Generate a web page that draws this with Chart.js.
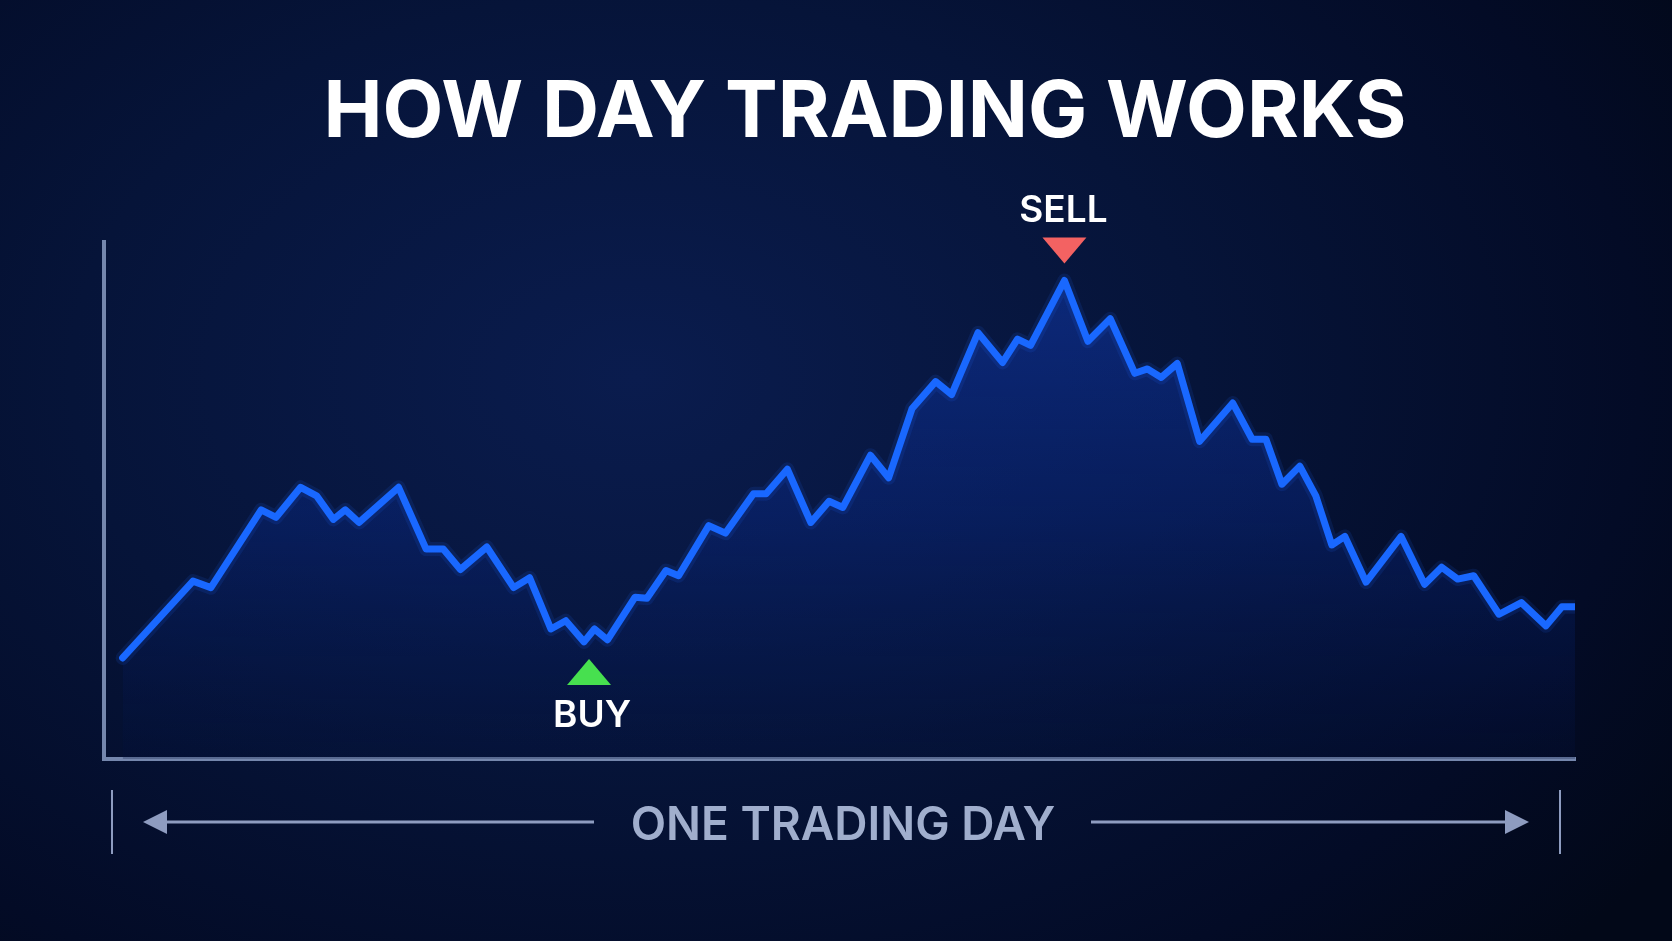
<!DOCTYPE html>
<html>
<head>
<meta charset="utf-8">
<script src="https://cdn.jsdelivr.net/npm/chart.js@4"></script>
<style>
  html, body { margin: 0; padding: 0; }
  body {
    width: 1672px;
    height: 941px;
    overflow: hidden;
    background: radial-gradient(ellipse 75% 90% at 38% 40%, #0a1c4e 0%, #061439 45%, #030b26 80%, #020818 100%);
  }
  canvas { display: block; }
</style>
</head>
<body>
<canvas id="js-day-chart" width="1672" height="941"></canvas>
<script>
"use strict";

// minutes after the open
const TIMES = [
  0, 18.9, 23.7, 37.2, 41.2, 47.8, 52.1, 56.6, 59.8, 63.5,
  74.1, 81.5, 86.1, 90.7, 97.8, 105.0, 109.3, 115.0, 119.0, 123.9,
  126.7, 130.2, 137.6, 140.8, 145.9, 149.3, 157.4, 161.9, 169.4, 172.8,
  178.5, 184.8, 189.7, 193.4, 200.8, 205.7, 212.0, 218.3, 222.6, 229.7,
  236.3, 240.3, 243.8, 252.9, 259.2, 265.2, 271.8, 275.2, 278.9, 283.2,
  289.2, 298.1, 303.3, 307.0, 311.3, 316.1, 320.4, 324.7, 328.2, 333.9,
  343.3, 349.6, 354.2, 358.5, 362.8, 369.6, 375.6, 382.2, 386.5, 390,
];
const PRICES = [
  98.91, 101.88, 101.63, 104.64, 104.35, 105.51, 105.18, 104.27, 104.64, 104.15,
  105.51, 103.12, 103.12, 102.33, 103.2, 101.63, 102.01, 100.03, 100.35, 99.53,
  100.03, 99.61, 101.26, 101.22, 102.29, 102.09, 104.03, 103.74, 105.26, 105.26,
  106.21, 104.15, 104.97, 104.73, 106.75, 105.88, 108.56, 109.6, 109.1, 111.49,
  110.34, 111.24, 111.0, 113.51, 111.16, 112.03, 109.92, 110.09, 109.76, 110.3,
  107.29, 108.77, 107.37, 107.37, 105.63, 106.33, 105.18, 103.28, 103.61, 101.84,
  103.61, 101.76, 102.42, 101.96, 102.09, 100.6, 101.05, 100.15, 100.89, 100.89,
];
const BUY_INDEX = 19;
const SELL_INDEX = 43;

const TITLE = "HOW DAY TRADING WORKS";
const BUY_LABEL = "BUY";
const SELL_LABEL = "SELL";
const AXIS_LABEL = "ONE TRADING DAY";

const points = TIMES.map((t, i) => ({ x: t, y: PRICES[i] }));

function triangle(ctx, cx, tipY, baseY, half, color) {
  ctx.beginPath();
  ctx.moveTo(cx, tipY);
  ctx.lineTo(cx - half, baseY);
  ctx.lineTo(cx + half, baseY);
  ctx.closePath();
  ctx.fillStyle = color;
  ctx.fill();
}

const decorations = {
  id: "decorations",
  afterDraw(chart) {
    const ctx = chart.ctx;
    const xs = chart.scales.x;
    const ys = chart.scales.y;
    ctx.save();

    // title
    ctx.fillStyle = "#ffffff";
    ctx.textAlign = "center";
    ctx.textBaseline = "alphabetic";
    ctx.font = "700 79px Inter";
    ctx.fillText(TITLE, 865, 137);

    // buy marker
    const bx = xs.getPixelForValue(TIMES[BUY_INDEX]) + 5;
    const by = ys.getPixelForValue(PRICES[BUY_INDEX]);
    triangle(ctx, bx, by + 17, by + 43, 22, "#47e04f");
    ctx.fillStyle = "#ffffff";
    ctx.font = "600 37px Inter";
    ctx.fillText(BUY_LABEL, bx + 3, by + 85);

    // sell marker
    const sx = xs.getPixelForValue(TIMES[SELL_INDEX]);
    const sy = ys.getPixelForValue(PRICES[SELL_INDEX]);
    triangle(ctx, sx, sy - 17, sy - 43, 22, "#f36262");
    ctx.fillStyle = "#ffffff";
    ctx.fillText(SELL_LABEL, sx - 1, sy - 59);

    // one trading day
    const lineY = 822;
    ctx.strokeStyle = "#8e9cc0";
    ctx.fillStyle = "#8e9cc0";
    ctx.lineWidth = 2;
    ctx.beginPath();
    ctx.moveTo(112, 790);
    ctx.lineTo(112, 854);
    ctx.moveTo(1560, 790);
    ctx.lineTo(1560, 854);
    ctx.stroke();

    ctx.lineWidth = 3;
    ctx.beginPath();
    ctx.moveTo(160, lineY);
    ctx.lineTo(594, lineY);
    ctx.moveTo(1091, lineY);
    ctx.lineTo(1512, lineY);
    ctx.stroke();

    ctx.beginPath();
    ctx.moveTo(143, lineY);
    ctx.lineTo(167, lineY - 12);
    ctx.lineTo(167, lineY + 12);
    ctx.closePath();
    ctx.fill();
    ctx.beginPath();
    ctx.moveTo(1529, lineY);
    ctx.lineTo(1505, lineY - 12);
    ctx.lineTo(1505, lineY + 12);
    ctx.closePath();
    ctx.fill();

    ctx.fillStyle = "#a0aecd";
    ctx.font = "600 46px Inter";
    ctx.fillText(AXIS_LABEL, 843, 840);

    ctx.restore();
  },
};

const ctx = document.getElementById("js-day-chart").getContext("2d");

new Chart(ctx, {
  type: "line",
  data: {
    datasets: [
      {
        // glow
        data: points,
        borderColor: "rgba(30, 110, 255, 0.12)",
        borderWidth: 14,
        borderJoinStyle: "round",
        borderCapStyle: "round",
        pointRadius: 0,
        fill: false,
        tension: 0,
      },
      {
        data: points,
        borderColor: "#1868ff",
        borderWidth: 7,
        borderJoinStyle: "round",
        borderCapStyle: "round",
        pointRadius: 0,
        tension: 0,
        fill: "start",
        backgroundColor: (context) => {
          const area = context.chart.chartArea;
          if (!area) return "rgba(10, 40, 120, 0.4)";
          const g = context.chart.ctx.createLinearGradient(0, area.top + 30, 0, area.bottom);
          g.addColorStop(0, "rgba(16, 55, 165, 0.6)");
          g.addColorStop(0.5, "rgba(10, 40, 130, 0.45)");
          g.addColorStop(1, "rgba(4, 18, 60, 0.25)");
          return g;
        },
      },
    ],
  },
  options: {
    responsive: false,
    animation: false,
    layout: {
      padding: { left: 104, right: 97, top: 242, bottom: 182 },
    },
    scales: {
      x: {
        type: "linear",
        min: -5,
        max: 390,
        grid: { display: false, drawTicks: false },
        ticks: { display: false },
        border: { display: true, color: "#7587ad", width: 4 },
      },
      y: {
        min: 95,
        max: 115,
        grid: { display: false, drawTicks: false },
        ticks: { display: false },
        border: { display: true, color: "#7587ad", width: 4 },
      },
    },
    plugins: {
      legend: { display: false },
      tooltip: { enabled: false },
    },
  },
  plugins: [decorations],
});
</script>
</body>
</html>
